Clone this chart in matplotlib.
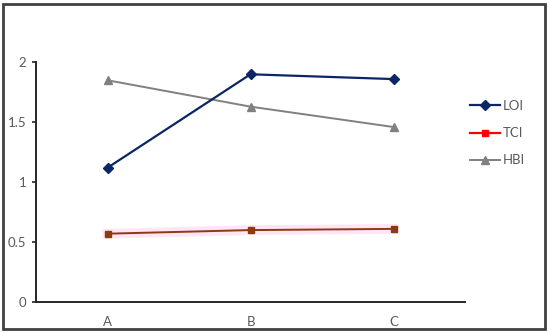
import matplotlib
matplotlib.use("Agg")
import matplotlib.pyplot as plt
from matplotlib.patches import Rectangle
from matplotlib.lines import Line2D

categories = ["A", "B", "C"]
loi = [1.12, 1.90, 1.86]
tci = [0.57, 0.60, 0.61]
hbi = [1.85, 1.63, 1.46]
yticks = [0, 0.5, 1, 1.5, 2]
ytick_labels = ["0", "0.5", "1", "1.5", "2"]

plt.rcParams['font.family'] = ['Lato', 'DejaVu Sans']
W, H = 550, 334
fig = plt.figure(figsize=(W / 100, H / 100), dpi=100)
ax = fig.add_axes([36 / W, (H - 302) / H, (465 - 36) / W, (302 - 62.3) / H])

x = list(range(len(categories)))
l1, = ax.plot(x, loi, color="#0B2566", lw=1.6, marker="D", ms=5, label="LOI", clip_on=False, zorder=4)
ax.plot(x, tci, color="#FFE3F4", lw=7, solid_capstyle="projecting", zorder=1, alpha=0.9)
ax.plot(x, tci, color="#8B3A12", lw=1.4, marker="s", ms=4.5, zorder=3)
l3, = ax.plot(x, hbi, color="#808080", lw=1.4, marker="^", ms=5.5, label="HBI", clip_on=False, zorder=3)
l2 = Line2D([], [], color="#FF0000", lw=1.6, marker="s", ms=4.5, label="TCI")

ax.set_xlim(-0.5, 2.5)
ax.set_ylim(0, 2)
ax.set_xticks(x)
ax.set_xticklabels(categories)
ax.set_yticks(yticks)
ax.set_yticklabels(ytick_labels)
for s in ["top", "right"]:
    ax.spines[s].set_visible(False)
for s in ["left", "bottom"]:
    ax.spines[s].set_color("#262626")
    ax.spines[s].set_linewidth(1.4)
ax.tick_params(axis="y", length=3, width=1.2, color="#262626", labelcolor="#595959", labelsize=9.5, pad=4)
ax.tick_params(axis="x", length=0, labelcolor="#595959", labelsize=9.5, pad=10)

leg = ax.legend(handles=[l1, l2, l3], loc="upper left",
                bbox_to_anchor=(470 / W, (H - 100) / H), bbox_transform=fig.transFigure,
                frameon=False, fontsize=9.5, labelspacing=1.15, handlelength=2.25,
                handletextpad=0.25, borderpad=0, borderaxespad=0)
for t in leg.get_texts():
    t.set_color("#595959")

fig.patches.append(Rectangle((3 / W, (H - 329) / H), (545 - 3) / W, (329 - 3.5) / H,
                             transform=fig.transFigure, fill=False, edgecolor="#404040", lw=2))

fig.savefig("out.png", dpi=100)
